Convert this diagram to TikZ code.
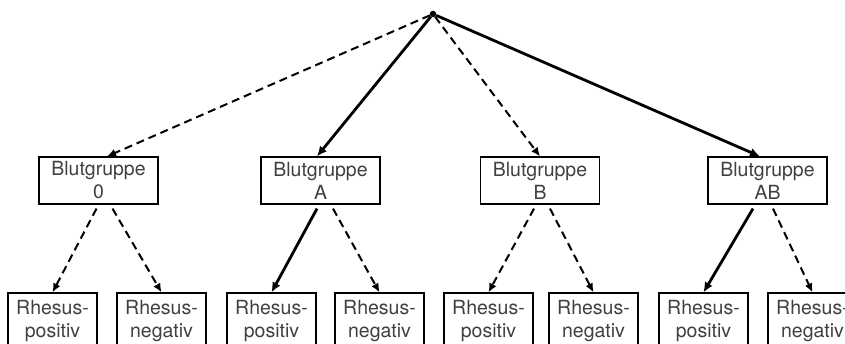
\documentclass[tikz,border=0pt]{standalone}
\usepackage{fontspec}
\setmainfont{TeX Gyre Heros}
\usetikzlibrary{arrows.meta,calc}
\definecolor{txt}{HTML}{404040}
\begin{document}
\begin{tikzpicture}[x=1pt,y=-1pt,
  gbox/.style={draw, line width=1.2pt, minimum width=119pt, minimum height=47pt,
    inner sep=0pt, align=center, text=txt, font=\fontsize{19.5}{23}\selectfont},
  rbox/.style={gbox, minimum width=89pt, minimum height=57pt},
  solidarrow/.style={line width=2.8pt, -{Latex[length=10pt,width=9pt]}},
  dasharrow/.style={line width=2pt, dash pattern=on 8pt off 5pt, -{Latex[length=9pt,width=8pt]}},
  rootdot/.style={circle, fill, inner sep=0pt, minimum size=6.5pt}
]
\useasboundingbox (0,0) rectangle (845,344);
\clip (0,0) rectangle (845,344);

\node[rootdot] (root) at (433,14) {};

\node[gbox] (g0)  at (98.5,180.5) {Blutgruppe\\0};
\node[gbox] (gA)  at (320.5,180.5) {Blutgruppe\\A};
\node[gbox] (gB)  at (540,180.5) {Blutgruppe\\B};
\node[gbox] (gAB) at (767.5,180.5) {Blutgruppe\\AB};

\node[rbox] (r1) at (52.5,321.5) {Rhesus-\\positiv};
\node[rbox] (r2) at (161.5,321.5) {Rhesus-\\negativ};
\node[rbox] (r3) at (271.5,321.5) {Rhesus-\\positiv};
\node[rbox] (r4) at (379.5,321.5) {Rhesus-\\negativ};
\node[rbox] (r5) at (488.5,321.5) {Rhesus-\\positiv};
\node[rbox] (r6) at (593.5,321.5) {Rhesus-\\negativ};
\node[rbox] (r7) at (703.5,321.5) {Rhesus-\\positiv};
\node[rbox] (r8) at (812.5,321.5) {Rhesus-\\negativ};

\draw[dasharrow]  (root) -- ($(g0.north)+(8.5,0)$);
\draw[solidarrow] (root) -- ($(gA.north)+(-3.5,0)$);
\draw[dasharrow]  (root) -- ($(gB.north)+(0,0)$);
\draw[solidarrow] (root) -- ($(gAB.north)+(-7.5,0)$);

\draw[dasharrow]  ($(g0.south)+(-2,4)$) -- (r1.north);
\draw[dasharrow]  ($(g0.south)+(14,4)$) -- (r2.north);
\draw[solidarrow] ($(gA.south)+(-3.5,4)$) -- (r3.north);
\draw[dasharrow]  ($(gA.south)+(12.5,4)$) -- (r4.north);
\draw[dasharrow]  ($(gB.south)+(-6,4)$) -- (r5.north);
\draw[dasharrow]  ($(gB.south)+(10,4)$) -- (r6.north);
\draw[solidarrow] ($(gAB.south)+(-14.5,4)$) -- (r7.north);
\draw[dasharrow]  ($(gAB.south)+(5.5,4)$) -- (r8.north);
\end{tikzpicture}
\end{document}
